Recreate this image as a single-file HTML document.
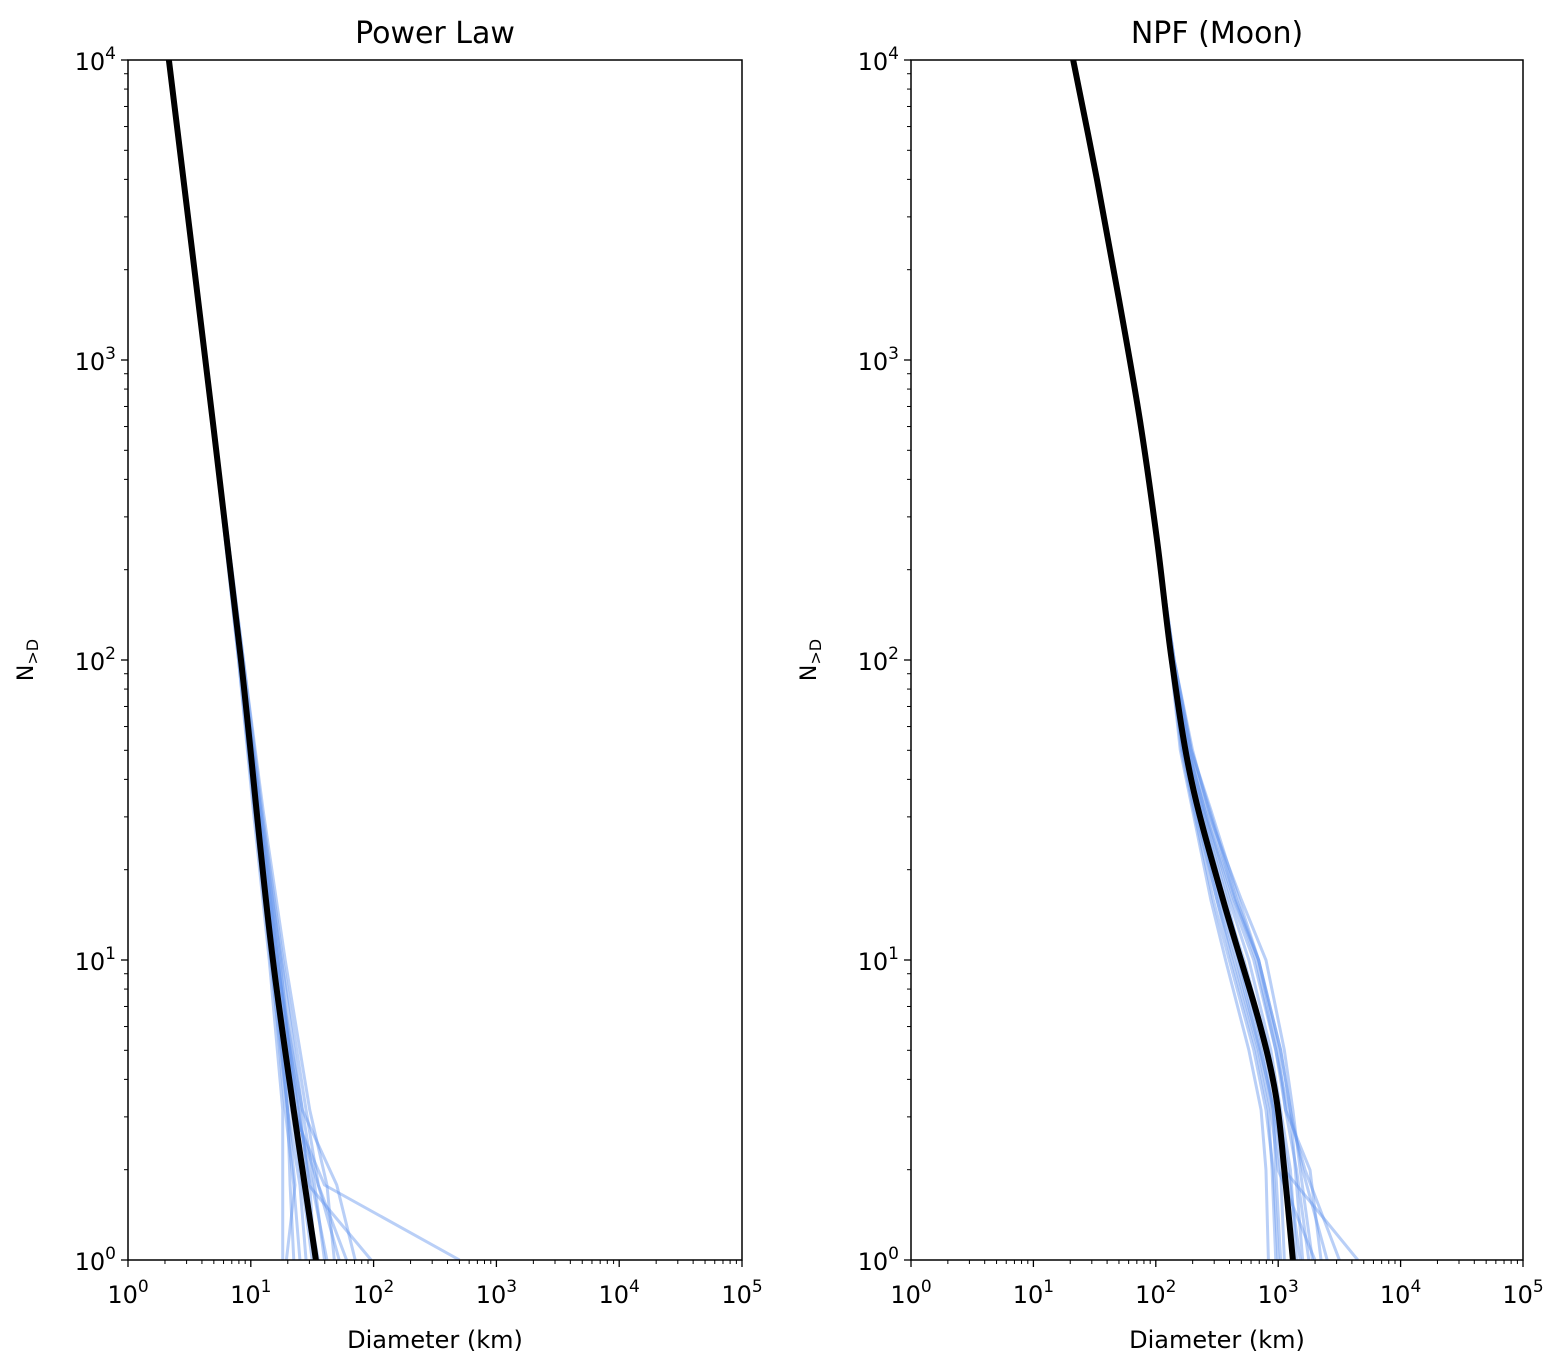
<!DOCTYPE html>
<html><head><meta charset="utf-8"><style>
body{margin:0;background:#fff}
svg{display:block;font-family:"DejaVu Sans","Liberation Sans",sans-serif}
</style></head><body>
<svg id="chart" width="1554" height="1360" viewBox="0 0 1554 1360"></svg>
<script>
// ---- data ----
const xDecades = [0,1,2,3,4,5];
const yDecades = [0,1,2,3,4];
const panelTitles = ["Power Law","NPF (Moon)"];
// mean curves: [log10 N, log10 D]
const pwMeanLogN = [4,3,2,1,0];
const pwMeanLogD = [0.333,0.63,0.92,1.18,1.53];
const npfMeanLogN = [4,3.6,3.2,2.8,2.4,2,1.6,1.2,0.8,0.55,0.3,0];
const npfMeanLogD = [1.325,1.52,1.70,1.87,2.01,2.13,2.29,2.55,2.84,2.98,3.05,3.12];
// sample curves (log D at logN levels)
const pwSampleLogN = [2,1.5,1,0.5,0.25,0];
const pwSamples = [
 [0.92,1.05,1.2,1.30,1.36,1.29],
 [0.93,1.07,1.22,1.38,1.50,1.62],
 [0.90,1.03,1.16,1.30,1.40,1.45],
 [0.94,1.09,1.26,1.45,1.55,1.72],
 [0.91,1.05,1.19,1.34,1.60,2.70],
 [0.92,1.06,1.21,1.42,1.70,1.85],
 [0.93,1.06,1.18,1.30,1.32,1.35],
 [0.91,1.04,1.20,1.40,1.47,1.98],
 [0.92,1.08,1.24,1.36,1.44,1.55],
 [0.90,1.02,1.15,1.26,1.26,1.26],
 [0.93,1.08,1.25,1.42,1.52,1.60],
 [0.91,1.04,1.17,1.33,1.42,1.50],
 [0.92,1.07,1.23,1.39,1.48,1.52],
 [0.94,1.10,1.28,1.48,1.62,1.68],
 [0.91,1.03,1.17,1.28,1.35,1.40],
 [0.92,1.06,1.22,1.36,1.55,1.78]
];
const npfSampleLogN = [2,1.7,1.5,1.2,1,0.7,0.5,0.3,0];
const npfSamples = [
 [2.13,2.22,2.32,2.50,2.62,2.82,2.92,2.95,2.98],
 [2.14,2.27,2.40,2.62,2.80,2.98,3.06,3.15,3.25],
 [2.12,2.20,2.30,2.45,2.57,2.76,2.86,2.90,2.92],
 [2.15,2.29,2.44,2.66,2.84,3.02,3.10,3.20,3.40],
 [2.13,2.25,2.37,2.56,2.72,2.92,3.00,3.05,3.65],
 [2.12,2.23,2.33,2.50,2.64,2.84,2.94,3.00,3.30],
 [2.14,2.27,2.39,2.60,2.76,2.94,3.02,3.10,3.15],
 [2.13,2.24,2.35,2.55,2.68,2.86,2.96,3.02,3.05],
 [2.15,2.30,2.43,2.65,2.82,2.98,3.08,3.22,3.50],
 [2.12,2.21,2.31,2.47,2.60,2.80,2.90,2.96,3.00],
 [2.14,2.28,2.42,2.70,2.90,3.05,3.12,3.18,3.28],
 [2.13,2.25,2.38,2.58,2.70,2.88,2.96,2.98,3.02],
 [2.12,2.22,2.34,2.52,2.66,2.85,2.97,3.05,3.12],
 [2.14,2.26,2.40,2.64,2.84,3.02,3.10,3.14,3.20],
 [2.13,2.23,2.35,2.53,2.68,2.90,3.00,3.08,3.18],
 [2.15,2.29,2.45,2.68,2.84,3.00,3.06,3.26,3.35]
];
// ---- drawing ----
const NS="http://www.w3.org/2000/svg";
const svg=document.getElementById('chart');
function el(t,a,p){const e=document.createElementNS(NS,t);for(const k in a)e.setAttribute(k,a[k]);(p||svg).appendChild(e);return e;}
function smooth(pts){
  let d='M'+pts[0][0]+','+pts[0][1];
  for(let i=0;i<pts.length-1;i++){
    const p0=pts[Math.max(0,i-1)],p1=pts[i],p2=pts[i+1],p3=pts[Math.min(pts.length-1,i+2)];
    const c1=[p1[0]+(p2[0]-p0[0])/6,p1[1]+(p2[1]-p0[1])/6];
    const c2=[p2[0]-(p3[0]-p1[0])/6,p2[1]-(p3[1]-p1[1])/6];
    d+='C'+c1+' '+c2+' '+p2;
  }
  return d;
}
const panels=[{x0:128,x1:742,meanN:pwMeanLogN,meanD:pwMeanLogD,sN:pwSampleLogN,s:pwSamples},
              {x0:911,x1:1523,meanN:npfMeanLogN,meanD:npfMeanLogD,sN:npfSampleLogN,s:npfSamples}];
const y0=1260,y1=60;
panels.forEach((P,pi)=>{
  const g=el('g',{});
  
  
  const sx=v=>P.x0+(v-0)/(5-0)*(P.x1-P.x0);
  const sy=v=>y0-(v-0)/(4-0)*(y0-y1);
  const clip=el('clipPath',{id:'c'+pi},g);el('rect',{x:P.x0,y:y1,width:P.x1-P.x0,height:y0-y1},clip);
  const lines=el('g',{'clip-path':'url(#c'+pi+')'},g);
  P.s.forEach((row,i)=>{
    const pts=P.meanN.map((n,j)=>[n,P.meanD[j]]).filter(a=>a[0]>P.sN[0]).map(a=>[sx(a[1]),sy(a[0])])
      .concat(row.map((v,j)=>[sx(v),sy(P.sN[j])]));
    const d=pts.map((p,j)=>(j?'L':'M')+p[0]+','+p[1]).join('');
    const p=el('path',{d:d,fill:'none',stroke:'#6495ed','stroke-opacity':0.45,'stroke-width':3},lines);
    
    
  });
  const md=smooth(P.meanN.map((n,j)=>[sx(P.meanD[j]),sy(n)]));
  const m=el('path',{d:md,fill:'none',stroke:'#000','stroke-width':6,'stroke-linejoin':'round'},lines);
  
  
  el('rect',{x:P.x0,y:y1,width:P.x1-P.x0,height:y0-y1,fill:'none',stroke:'#000','stroke-width':1.5},g);
  xDecades.forEach(d=>{
    const X=sx(d);
    el('line',{x1:X,x2:X,y1:y0,y2:y0+7,stroke:'#000','stroke-width':1.3},g);
    const t=el('text',{x:X,y:y0+43,'font-size':24,'text-anchor':'middle'},g);
    t.innerHTML='10<tspan dy="-11" font-size="17">'+d+'</tspan>';
    
    
    if(d<5)for(let k=2;k<10;k++){const Xm=sx(d+Math.log10(k));el('line',{x1:Xm,x2:Xm,y1:y0,y2:y0+4,stroke:'#000','stroke-width':1},g);}
  });
  yDecades.forEach(d=>{
    const Y=sy(d);
    el('line',{x1:P.x0,x2:P.x0-7,y1:Y,y2:Y,stroke:'#000','stroke-width':1.3},g);
    const t=el('text',{x:P.x0-12,y:Y+10,'font-size':24,'text-anchor':'end'},g);
    t.innerHTML='10<tspan dy="-11" font-size="17">'+d+'</tspan>';
    
    
    if(d<4)for(let k=2;k<10;k++){const Ym=sy(d+Math.log10(k));el('line',{x1:P.x0,x2:P.x0-4,y1:Ym,y2:Ym,stroke:'#000','stroke-width':1},g);}
  });
  const tt=el('text',{x:(P.x0+P.x1)/2,y:43,'font-size':30,'text-anchor':'middle'},g);
  tt.textContent=panelTitles[pi];
  
  
  const xl=el('text',{x:(P.x0+P.x1)/2,y:1348,'font-size':24,'text-anchor':'middle'},g);
  xl.textContent='Diameter (km)';
  
  
  const yl=el('text',{transform:'translate('+(P.x0-95)+',660) rotate(-90)','font-size':22,'text-anchor':'middle'},g);
  yl.innerHTML='N<tspan dy="5" font-size="16">&gt;D</tspan>';
  
  
});
</script>
</body></html>
